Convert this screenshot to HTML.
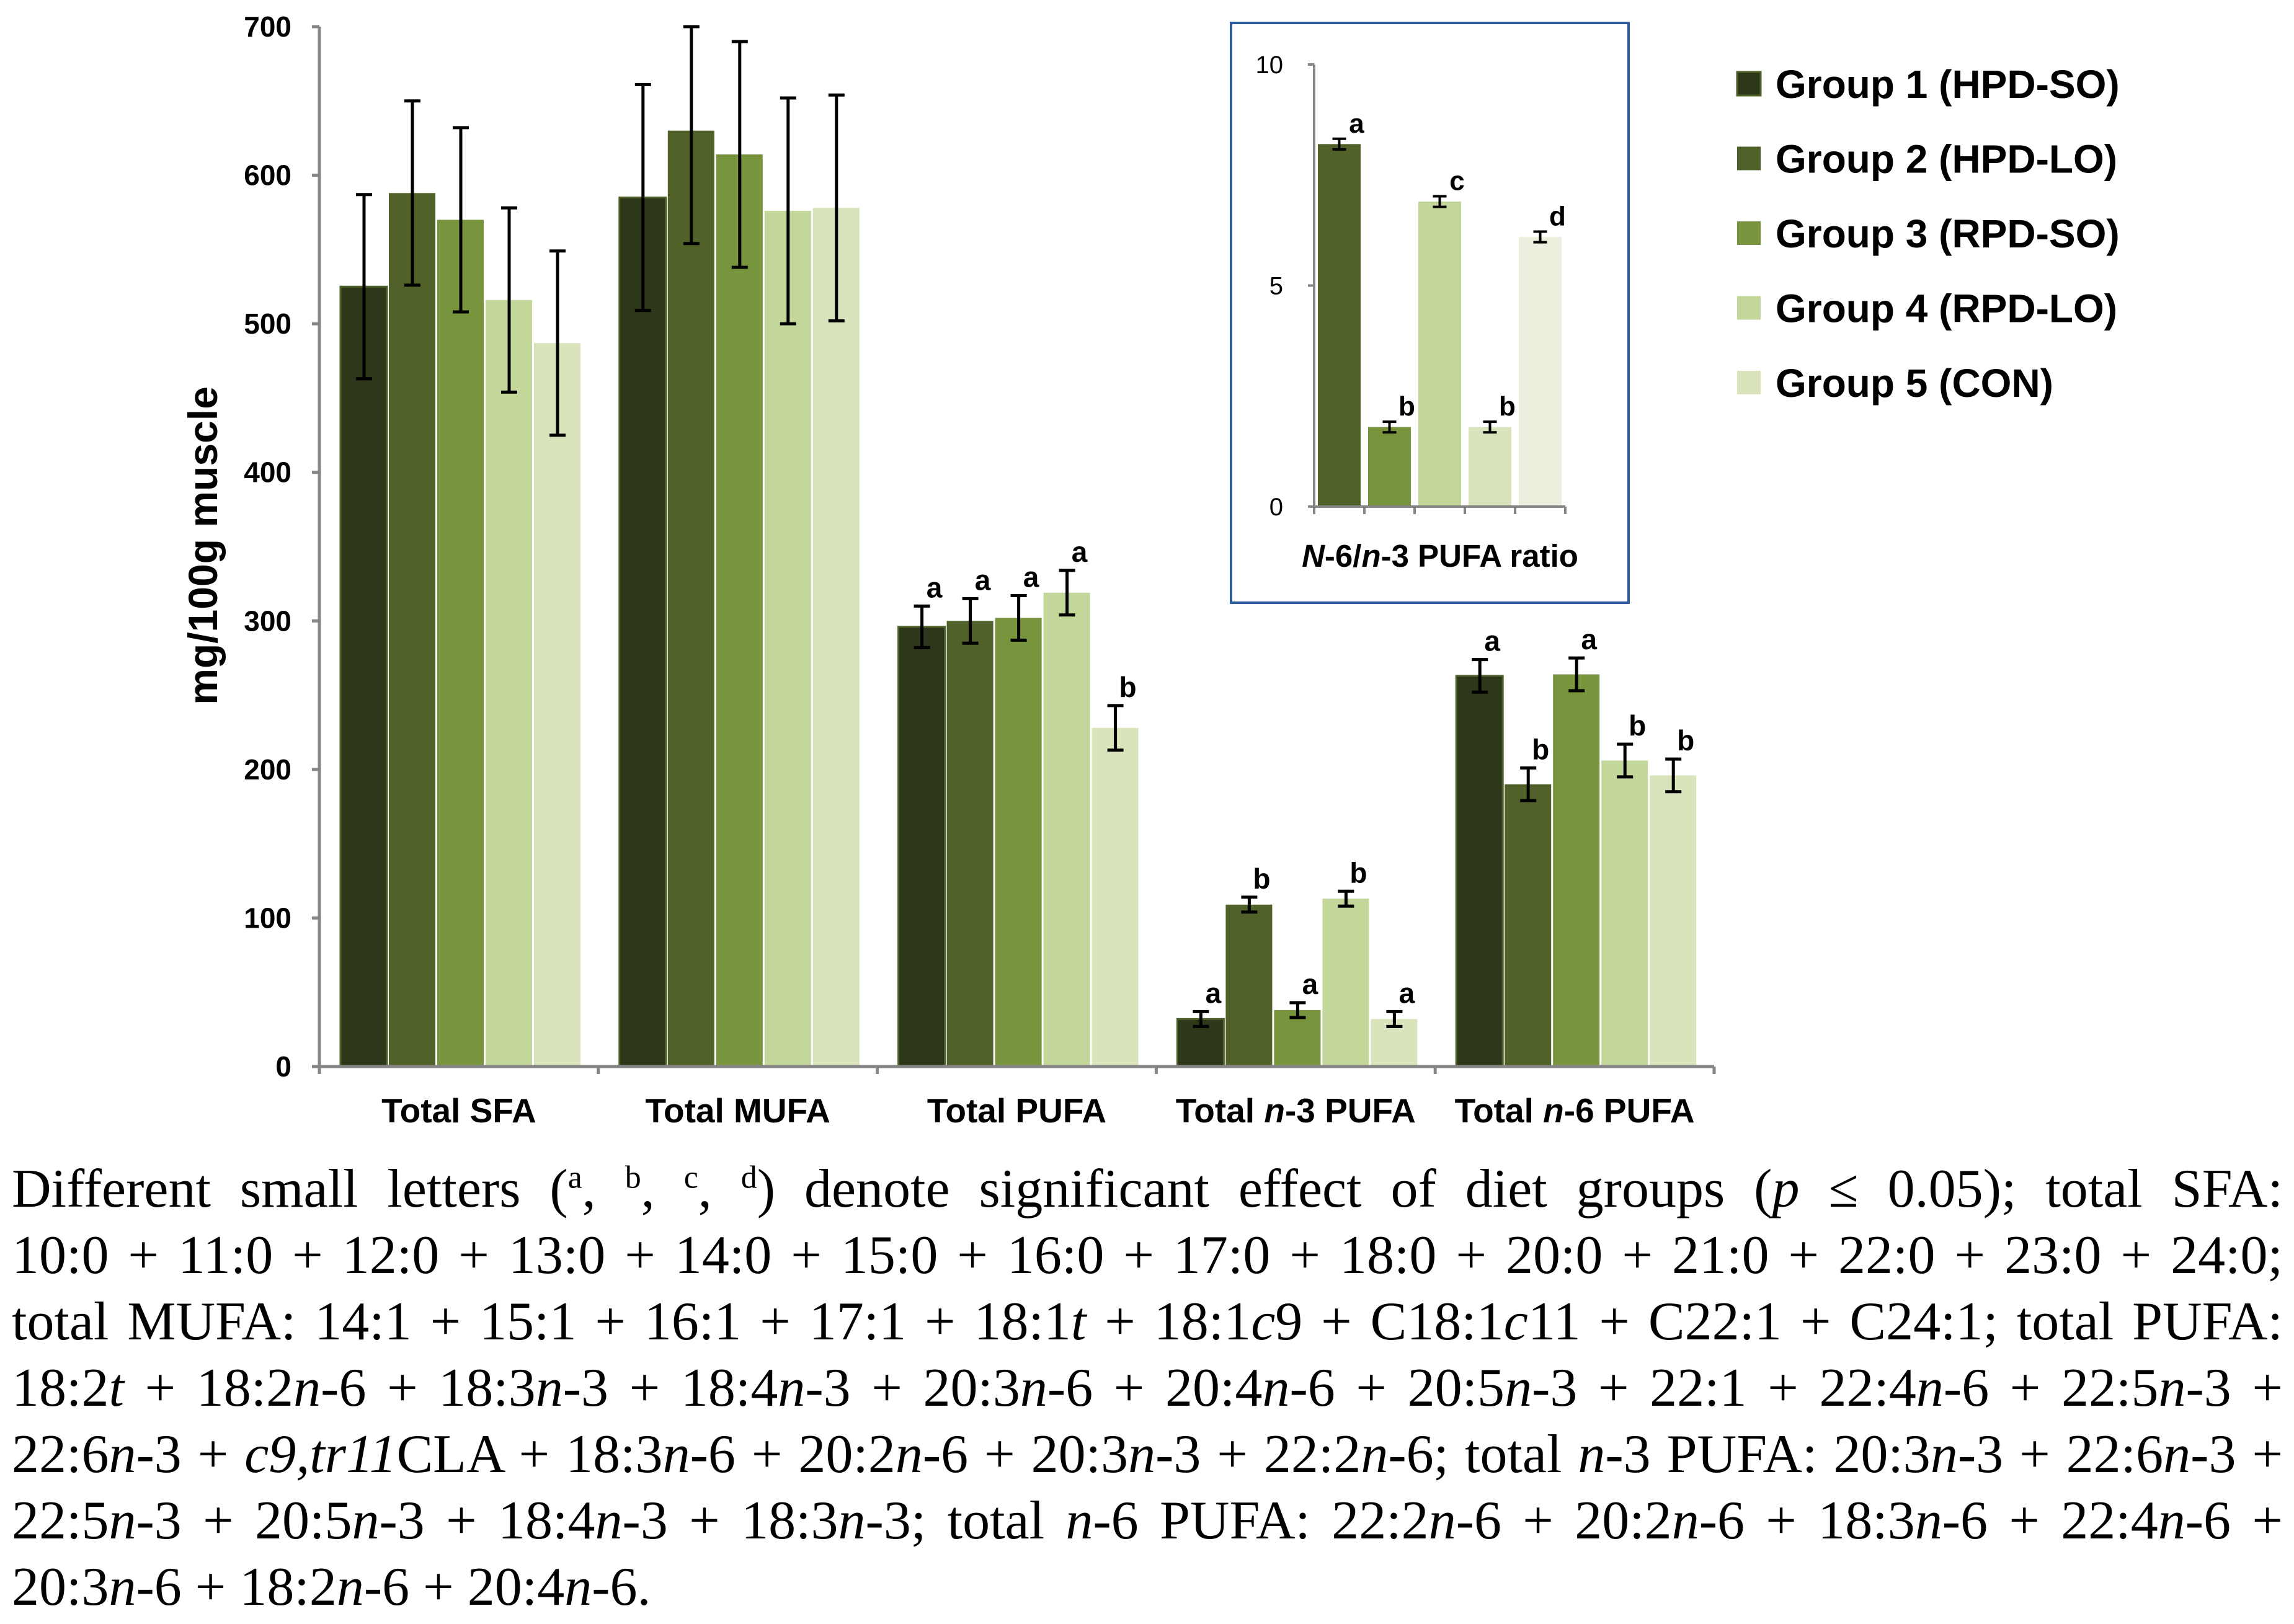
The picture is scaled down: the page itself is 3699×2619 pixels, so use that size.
<!DOCTYPE html>
<html><head><meta charset="utf-8">
<style>
html,body{margin:0;padding:0;background:#fff;}
body{width:3699px;height:2619px;position:relative;overflow:hidden;}
svg text{font-family:"Liberation Sans",sans-serif;}
#caption{position:absolute;left:19px;top:1864px;width:3662px;font-family:"Liberation Serif",serif;font-size:88px;line-height:107px;color:#000;}
#caption div{text-align:justify;text-align-last:justify;white-space:nowrap;}
#caption div.last{text-align-last:left;}
sup{font-size:52px;line-height:0;}
</style></head><body>
<svg id="chart" width="3699" height="1860" style="position:absolute;left:0;top:0"></svg>
<div id="caption">
<div>Different small letters (<sup>a</sup>, <sup>b</sup>, <sup>c</sup>, <sup>d</sup>) denote significant effect of diet groups (<i>p</i> ≤ 0.05); total SFA:</div>
<div>10:0 + 11:0 + 12:0 + 13:0 + 14:0 + 15:0 + 16:0 + 17:0 + 18:0 + 20:0 + 21:0 + 22:0 + 23:0 + 24:0;</div>
<div>total MUFA: 14:1 + 15:1 + 16:1 + 17:1 + 18:1<i>t</i> + 18:1<i>c</i>9 + C18:1<i>c</i>11 + C22:1 + C24:1; total PUFA:</div>
<div>18:2<i>t</i> + 18:2<i>n</i>-6 + 18:3<i>n</i>-3 + 18:4<i>n</i>-3 + 20:3<i>n</i>-6 + 20:4<i>n</i>-6 + 20:5<i>n</i>-3 + 22:1 + 22:4<i>n</i>-6 + 22:5<i>n</i>-3 +</div>
<div>22:6<i>n</i>-3 + <i>c9,tr11</i>CLA + 18:3<i>n</i>-6 + 20:2<i>n</i>-6 + 20:3<i>n</i>-3 + 22:2<i>n</i>-6; total <i>n</i>-3 PUFA: 20:3<i>n</i>-3 + 22:6<i>n</i>-3 +</div>
<div>22:5<i>n</i>-3 + 20:5<i>n</i>-3 + 18:4<i>n</i>-3 + 18:3<i>n</i>-3; total <i>n</i>-6 PUFA: 22:2<i>n</i>-6 + 20:2<i>n</i>-6 + 18:3<i>n</i>-6 + 22:4<i>n</i>-6 +</div>
<div class="last">20:3<i>n</i>-6 + 18:2<i>n</i>-6 + 20:4<i>n</i>-6.</div>
</div>
<script>
const categories = ["Total SFA","Total MUFA","Total PUFA","Total n-3 PUFA","Total n-6 PUFA"];
const seriesNames = ["Group 1 (HPD-SO)","Group 2 (HPD-LO)","Group 3 (RPD-SO)","Group 4 (RPD-LO)","Group 5 (CON)"];
const g1 = [525,585,296,32,263];
const g2 = [588,630,300,109,190];
const g3 = [570,614,302,38,264];
const g4 = [516,576,319,113,206];
const g5 = [487,578,228,32,196];
const err1 = [62,76,14,5,11];
const err2 = [62,76,15,5,11];
const err3 = [62,76,15,5,11];
const err4 = [62,76,15,5,11];
const err5 = [62,76,15,5,11];
const letters1 = ["","","a","a","a"];
const letters2 = ["","","a","b","b"];
const letters3 = ["","","a","a","a"];
const letters4 = ["","","a","b","b"];
const letters5 = ["","","b","a","b"];
const yTicks = [0,100,200,300,400,500,600,700];
const insetValues = [8.2,1.8,6.9,1.8,6.1];
const insetErrors = [0.12,0.12,0.12,0.12,0.12];
const insetLetters = ["a","b","c","b","d"];
const insetTicks = [0,5,10];

const colors = ["#2d3719","#506129","#78943d","#c4d79b","#d9e4bd"];
const insetColors = ["#506129","#78943d","#c4d79b","#d9e4bd","#ebf1de"];
const svg = document.getElementById('chart');
const NS = "http://www.w3.org/2000/svg";
function mk(tag, attrs, parent){const e=document.createElementNS(NS,tag);for(const k in attrs)e.setAttribute(k,attrs[k]);(parent||svg).appendChild(e);return e;}

const X0=515, X1=2764, Y0=1720, YT=43, YMAX=700;
const y = v => Y0 - (v/YMAX)*(Y0-YT);
const catW = (X1-X0)/categories.length;
const barW = 78, barOff = 33;
const xBar = (ci, si) => X0 + ci*catW + barOff + si*barW;

let e;
yTicks.forEach(t=>{
  e=mk('line',{x1:X0-12,x2:X0,y1:y(t),y2:y(t),stroke:'#868686','stroke-width':5});
  
  
  e=mk('text',{x:X0-45,y:y(t)+16,'text-anchor':'end','font-size':46,'font-weight':'bold',fill:'#000'});
  e.textContent=t;
  
  
});
e=mk('text',{transform:`translate(350,880) rotate(-90)`,'text-anchor':'middle','font-size':66,'font-weight':'bold',fill:'#000'});
e.textContent='mg/100g muscle';



const series=[g1,g2,g3,g4,g5], errs=[err1,err2,err3,err4,err5], lets=[letters1,letters2,letters3,letters4,letters5];
series.forEach((vals,si)=>{
  vals.forEach((v,ci)=>{
    const bx=xBar(ci,si);
    e=mk('rect',{x:bx+1,y:y(v),width:barW-3,height:Y0-y(v),fill:colors[si],stroke:si===0?'#506129':'none','stroke-width':si===0?3:0});
    
    
    const cx=bx+barW/2, top=Math.max(y(v+errs[si][ci]),y(YMAX)), bot=y(v-errs[si][ci]);
    e=mk('path',{d:`M${cx},${top}V${bot}M${cx-13},${top}H${cx+13}M${cx-13},${bot}H${cx+13}`,stroke:'#000','stroke-width':5,fill:'none'});
    
    
    if(lets[si][ci]){
      e=mk('text',{x:cx+20,y:top-14,'text-anchor':'middle','font-size':46,'font-weight':'bold',fill:'#000'});
      e.textContent=lets[si][ci];
      
      
    }
  });
});
e=mk('line',{x1:X0,x2:X0,y1:YT,y2:Y0,stroke:'#868686','stroke-width':5});


e=mk('line',{x1:X0,x2:X1,y1:Y0,y2:Y0,stroke:'#868686','stroke-width':5});


for(let i=0;i<=categories.length;i++){
  e=mk('line',{x1:X0+i*catW,x2:X0+i*catW,y1:Y0,y2:Y0+12,stroke:'#868686','stroke-width':5});
  
  
}
categories.forEach((c,ci)=>{
  e=mk('text',{x:X0+ci*catW+catW/2,y:1810,'text-anchor':'middle','font-size':55,'font-weight':'bold',fill:'#000'});
  const m=c.match(/^(Total )(n)(-\d PUFA)$/);
  if(m){e.innerHTML=`Total <tspan font-style="italic">n</tspan>${m[3]}`;} else e.textContent=c;
  
  
});

e=mk('rect',{x:1985,y:37,width:641,height:935,fill:'#fff',stroke:'#2e5c9a','stroke-width':4});


const IX0=2119, IY0=817, IYT=104, IMAX=10, iW=81;
const iy = v => IY0-(v/IMAX)*(IY0-IYT);
insetTicks.forEach(t=>{
  e=mk('line',{x1:IX0-10,x2:IX0,y1:iy(t),y2:iy(t),stroke:'#868686','stroke-width':4});
  
  
  e=mk('text',{x:IX0-50,y:iy(t)+14,'text-anchor':'end','font-size':40,fill:'#000'});
  e.textContent=t;
  
  
});
insetValues.forEach((v,i)=>{
  const bx=IX0+i*iW+6;
  e=mk('rect',{x:bx,y:iy(v),width:iW-12,height:IY0-iy(v),fill:insetColors[i]});
  
  
  const cx=bx+(iW-12)/2, top=iy(v+insetErrors[i]), bot=iy(v-insetErrors[i]);
  e=mk('path',{d:`M${cx},${top}V${bot}M${cx-11},${top}H${cx+11}M${cx-11},${bot}H${cx+11}`,stroke:'#000','stroke-width':4,fill:'none'});
  
  
  e=mk('text',{x:cx+28,y:top-10,'text-anchor':'middle','font-size':44,'font-weight':'bold',fill:'#000'});
  e.textContent=insetLetters[i];
  
  
});
e=mk('line',{x1:IX0,x2:IX0,y1:IYT,y2:IY0,stroke:'#868686','stroke-width':4});


e=mk('line',{x1:IX0,x2:IX0+5*iW,y1:IY0,y2:IY0,stroke:'#868686','stroke-width':4});


for(let i=0;i<=5;i++){
  e=mk('line',{x1:IX0+i*iW,x2:IX0+i*iW,y1:IY0,y2:IY0+12,stroke:'#868686','stroke-width':4});
  
  
}
e=mk('text',{x:2322,y:914,'text-anchor':'middle','font-size':51,'font-weight':'bold',fill:'#000'});
e.innerHTML='<tspan font-style="italic">N</tspan>-6/<tspan font-style="italic">n</tspan>-3 PUFA ratio';



seriesNames.forEach((n,i)=>{
  const cy=135+i*120.5;
  e=mk('rect',{x:2801,y:cy-19,width:38,height:38,fill:colors[i],stroke:i===0?'#506129':'none','stroke-width':i===0?3:0});
  
  
  e=mk('text',{x:2863,y:cy+23,'font-size':64,'font-weight':'bold',fill:'#000'});
  e.textContent=n;
  
  
});
</script>
</body></html>
